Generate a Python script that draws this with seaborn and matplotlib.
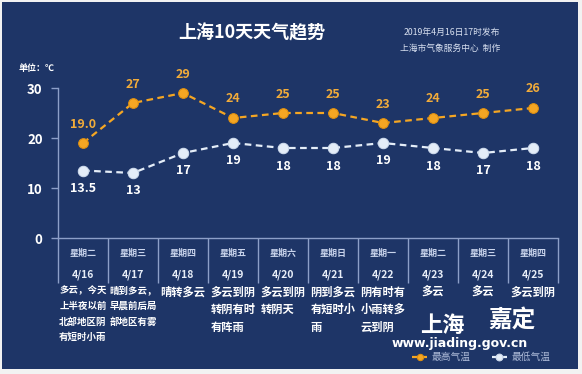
import numpy as np
import matplotlib.pyplot as plt
import seaborn as sns
from matplotlib.patches import Rectangle

# data
weekdays = ['星期二', '星期三', '星期四', '星期五', '星期六', '星期日', '星期一', '星期二', '星期三', '星期四']
dates = ['4/16', '4/17', '4/18', '4/19', '4/20', '4/21', '4/22', '4/23', '4/24', '4/25']
high_temp = [19, 27, 29, 24, 25, 25, 23, 24, 25, 26]
low_temp = [13.5, 13, 17, 19, 18, 18, 19, 18, 17, 18]
high_labels = ['19.0', '27', '29', '24', '25', '25', '23', '24', '25', '26']
low_labels = ['13.5', '13', '17', '19', '18', '18', '19', '18', '17', '18']
weather = [
    '多云，今天\n上半夜以前\n北部地区阴\n有短时小雨',
    '晴到多云，\n早晨前后局\n部地区有雾',
    '晴转多云',
    '多云到阴\n转阴有时\n有阵雨',
    '多云到阴\n转阴天',
    '阴到多云\n有短时小\n雨',
    '阴有时有\n小雨转多\n云到阴',
    '多云',
    '多云',
    '多云到阴',
]

sns.set_theme(style='white')
plt.rcParams['font.family'] = ['Noto Sans CJK SC', 'DejaVu Sans']

NAVY = '#1e3567'
ORANGE = '#f5a623'
LABEL_OR = '#f2ac3a'
WHITE = '#e4edf8'
GRID = '#8d9fc8'

W, H = 582, 374
fig = plt.figure(figsize=(W / 100, H / 100), dpi=100)
fig.patch.set_facecolor('#f2f2f2')
fig.add_artist(Rectangle((2 / W, 5 / H), 576 / W, 367 / H, transform=fig.transFigure,
                         facecolor=NAVY, edgecolor='none', zorder=0))

ax = fig.add_axes([58 / W, 136 / H, 500 / W, 150 / H])
ax.patch.set_alpha(0)
x = np.arange(len(dates))

sns.lineplot(x=x, y=high_temp, ax=ax, color=ORANGE, linestyle=(0, (3, 2)), linewidth=1.6,
             marker='o', markersize=7, markerfacecolor=ORANGE, markeredgecolor='#e09010',
             label='最高气温', clip_on=False)
sns.lineplot(x=x, y=low_temp, ax=ax, color=WHITE, linestyle=(0, (3, 2)), linewidth=1.6,
             marker='o', markersize=7.5, markerfacecolor=WHITE, markeredgecolor='#cfdcee',
             label='最低气温', clip_on=False)

ax.set_xlim(-0.5, 9.5)
ax.set_ylim(0, 30)
ax.set_yticks([0, 10, 20, 30])
ax.set_xticks([])
ax.tick_params(axis='y', colors=GRID, length=5, width=1, left=True, pad=6,
               labelcolor='white', labelsize=9.5)
for lab in ax.get_yticklabels():
    lab.set_fontweight('bold')
for s in ['top', 'right']:
    ax.spines[s].set_visible(False)
for s in ['left', 'bottom']:
    ax.spines[s].set_color(GRID)
    ax.spines[s].set_linewidth(1)

# value labels
for i in x:
    ax.text(i, high_temp[i] + 3.8, high_labels[i], ha='center', va='center',
            color=LABEL_OR, fontsize=9, fontweight='bold', clip_on=False)
    ax.text(i, low_temp[i] - 3.6, low_labels[i], ha='center', va='center',
            color='white', fontsize=9, fontweight='bold', clip_on=False)

# table under the axis
ax.vlines(np.arange(11) - 0.5, -9, 0, color=GRID, linewidth=1, clip_on=False)
for i in x:
    ax.text(i, -3, weekdays[i], ha='center', va='center', color='#c9d4ec', fontsize=6.5,
            fontweight='bold', clip_on=False)
    ax.text(i, -7.4, dates[i], ha='center', va='center', color='#e8eef8', fontsize=7.5,
            fontweight='bold', clip_on=False)
    small = i < 2
    ax.text(i, -9.5, weather[i], ha='center', va='top', multialignment='left',
            color='white', fontsize=6.8 if small else 8.1,
            linespacing=1.7 if small else 1.45, fontweight='bold', clip_on=False)

# titles
fig.text(252 / W, 1 - 33 / H, '上海10天天气趋势', ha='center', va='center', color='white',
         fontsize=13, fontweight='bold')
fig.text(500 / W, 1 - 32 / H, '2019年4月16日17时发布', ha='right', va='center',
         color='#d8e0f0', fontsize=6.3)
fig.text(500 / W, 1 - 48 / H, '上海市气象服务中心  制作', ha='right', va='center',
         color='#d8e0f0', fontsize=6.3)
fig.text(19 / W, 1 - 68 / H, '单位：℃', ha='left', va='center', color='white',
         fontsize=6.5, fontweight='bold')

# watermark
fig.text(442 / W, 1 - 325 / H, '上海', ha='center', va='center', color='white',
         fontsize=16, fontweight='bold')
fig.text(512 / W, 1 - 320 / H, '嘉定', ha='center', va='center', color='white',
         fontsize=17, fontweight='bold', style='italic')
fig.text(460 / W, 1 - 343 / H, 'www.jiading.gov.cn', ha='center', va='center',
         color='white', fontsize=9, fontweight='bold', family=['DejaVu Sans'])

leg = ax.legend(loc='center', bbox_to_anchor=(481 / W, 1 - 357 / H), bbox_transform=fig.transFigure,
                ncol=2, frameon=False, fontsize=7, handlelength=1.6, handletextpad=0.4,
                columnspacing=2.2, labelcolor='#aebbd8', markerscale=0.65)

fig.savefig('out.png', dpi=100, facecolor=fig.get_facecolor())
